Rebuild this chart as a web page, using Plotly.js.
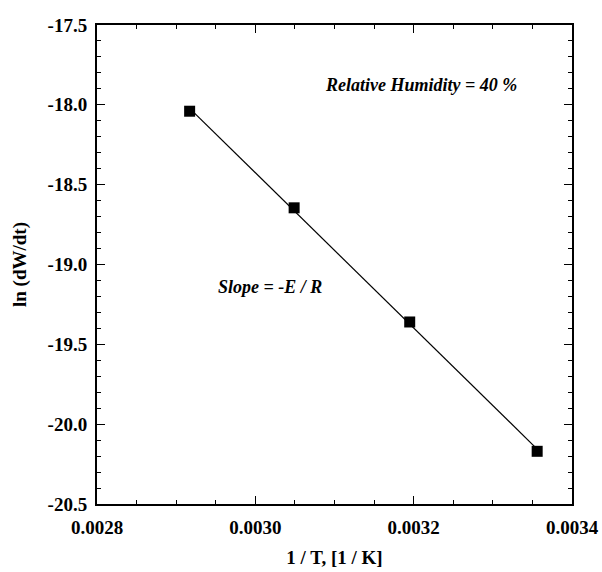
<!DOCTYPE html>
<html>
<head>
<meta charset="utf-8">
<script src="https://cdn.plot.ly/plotly-3.0.1.min.js"></script>
<style>html,body{margin:0;padding:0;background:#fff;}#chart{width:602px;height:572px;}</style>
</head>
<body>
<div id="chart"></div>
<script>
// Data
const invT = [0.002917, 0.003049, 0.003195, 0.003356];
const lnRate = [-18.04, -18.645, -19.36, -20.17];

const xTickVals = [0.0028, 0.0030, 0.0032, 0.0034];
const xTickText = ["0.0028", "0.0030", "0.0032", "0.0034"];
const yTickVals = [-17.5, -18.0, -18.5, -19.0, -19.5, -20.0, -20.5];
const yTickText = ["-17.5", "-18.0", "-18.5", "-19.0", "-19.5", "-20.0", "-20.5"];

const annotationText = ["Relative Humidity = 40 %", "Slope = -E / R"];

// least-squares fit through the data
function fit(xs, ys) {
  const n = xs.length;
  const mx = xs.reduce((a, b) => a + b, 0) / n;
  const my = ys.reduce((a, b) => a + b, 0) / n;
  let sxy = 0, sxx = 0;
  for (let i = 0; i < n; i++) { sxy += (xs[i] - mx) * (ys[i] - my); sxx += (xs[i] - mx) ** 2; }
  const b = sxy / sxx;
  return { a: my - b * mx, b: b };
}
const f = fit(invT, lnRate);
const fitX = [invT[0], invT[invT.length - 1]];
const fitY = fitX.map(x => f.a + f.b * x);

const serif = "Liberation Serif";

const traces = [
  { x: fitX, y: fitY, mode: "lines", line: { color: "#000", width: 1.2 }, hoverinfo: "skip", showlegend: false },
  { x: invT, y: lnRate, mode: "markers", marker: { symbol: "square", size: 11, color: "#000" }, showlegend: false }
];

const axisCommon = {
  showline: true, linecolor: "#000", linewidth: 2, mirror: "ticks",
  ticks: "inside", tickcolor: "#000", tickwidth: 1, ticklen: 8,
  showgrid: false, zeroline: false,
  tickfont: { family: serif, size: 19, color: "#000", weight: "bold" }
};

const layout = {
  width: 602, height: 572,
  margin: { l: 97, r: 30, t: 25, b: 68 },
  paper_bgcolor: "#fff", plot_bgcolor: "#fff",
  xaxis: Object.assign({}, axisCommon, {
    range: [0.0028, 0.0034],
    tickmode: "array", tickvals: xTickVals, ticktext: xTickText,
    minor: { dtick: 0.00005, ticks: "inside", ticklen: 4, tickcolor: "#000", tickwidth: 1 },
    ticklabelstandoff: 5,
    title: { text: "1 / T, [1 / K]", font: { family: serif, size: 19, color: "#000", weight: "bold" }, standoff: 14 }
  }),
  yaxis: Object.assign({}, axisCommon, {
    range: [-20.5, -17.5],
    tickmode: "array", tickvals: yTickVals, ticktext: yTickText,
    minor: { dtick: 0.1, ticks: "inside", ticklen: 4, tickcolor: "#000", tickwidth: 1 },
    ticklabelstandoff: 4,
    title: { text: "ln (dW/dt)", font: { family: serif, size: 19, color: "#000", weight: "bold" }, standoff: 16 }
  }),
  annotations: [
    { text: annotationText[0], xref: "paper", yref: "paper", x: 0.683, y: 0.8745, showarrow: false,
      xanchor: "center", yanchor: "middle",
      font: { family: serif, size: 18, color: "#000", weight: "bold", style: "italic" } },
    { text: annotationText[1], xref: "paper", yref: "paper", x: 0.364, y: 0.4525, showarrow: false,
      xanchor: "center", yanchor: "middle",
      font: { family: serif, size: 18, color: "#000", weight: "bold", style: "italic" } }
  ]
};

Plotly.newPlot("chart", traces, layout, { displayModeBar: false, staticPlot: true });
</script>
</body>
</html>
